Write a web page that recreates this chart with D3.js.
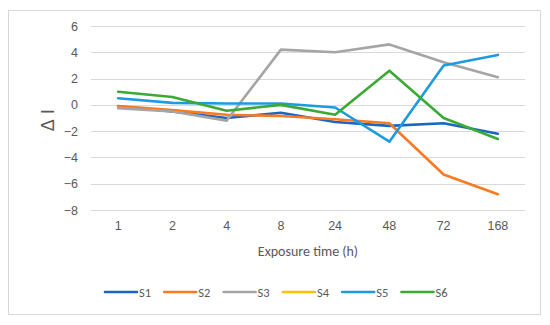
<!DOCTYPE html>
<html><head><meta charset="utf-8">
<script src="https://cdn.jsdelivr.net/npm/d3@7"></script>
<style>
html,body{margin:0;padding:0;background:#fff;}
svg{display:block;font-family:Carlito,Calibri,Lato,"Open Sans",sans-serif;}
</style></head>
<body><svg id="c" width="550" height="325"></svg>
<script>
const categories = ["1","2","4","8","24","48","72","168"];
const seriesNames = ["S1","S2","S3","S4","S5","S6"];
const seriesColors = ["#1a66c2","#f97a20","#a5a5a5","#ffc000","#1c9be0","#3aaa35"];
const S1 = [-0.1,-0.5,-1.0,-0.6,-1.3,-1.6,-1.4,-2.2];
const S2 = [-0.1,-0.4,-0.75,-0.85,-1.1,-1.4,-5.3,-6.8];
const S3 = [-0.25,-0.5,-1.2,4.2,4.0,4.6,3.25,2.1];
const S4 = [null,null,null,null,null,null,null,null];
const S5 = [0.5,0.15,0.1,0.1,-0.2,-2.8,3.0,3.8];
const S6 = [1.0,0.6,-0.45,0.0,-0.75,2.6,-1.0,-2.6];
const yTicks = [-8,-6,-4,-2,0,2,4,6];
const seriesValues = [S1,S2,S3,S4,S5,S6];

const svg = d3.select("#c");
svg.append("rect").attr("x",8.5).attr("y",10.5).attr("width",532).attr("height",304)
  .attr("fill","#fff").attr("stroke","#d9d9d9").attr("stroke-width",1);

const x = d3.scaleBand().domain(categories).range([91,525]);
const y = d3.scaleLinear().domain([-8,6]).range([210,26]);

// gridlines
svg.append("g").selectAll("line").data(yTicks).join("line")
  .attr("x1",91).attr("x2",525)
  .attr("y1",d=>Math.round(y(d))+0.5).attr("y2",d=>Math.round(y(d))+0.5)
  .attr("stroke","#d9d9d9").attr("stroke-width",1);

// y axis labels
const yAxis = d3.axisLeft(y).tickValues(yTicks).tickSize(0).tickPadding(0).tickFormat(d3.format("d"));
const gy = svg.append("g").attr("transform","translate(78,0)").call(yAxis);
gy.select(".domain").remove();
gy.selectAll("text").attr("fill","#595959").style("font-size","12.5px").style("font-family","inherit");

// x axis labels
const xAxis = d3.axisBottom(x).tickSize(0).tickPadding(0);
const gx = svg.append("g").attr("transform","translate(0,221)").call(xAxis);
gx.select(".domain").remove();
gx.selectAll("text").attr("fill","#595959").style("font-size","12.5px").style("font-family","inherit");

// axis titles
svg.append("text").attr("x",308).attr("y",256).attr("text-anchor","middle")
  .attr("fill","#595959").style("font-size","14px").text("Exposure time (h)");
svg.append("text").attr("transform","translate(54,120) rotate(-90)").attr("text-anchor","middle")
  .attr("fill","#595959").style("font-size","21px").text("Δ I");

// lines
const line = d3.line().defined(d=>d.v!=null).x(d=>x(d.c)+x.bandwidth()/2).y(d=>y(d.v));
seriesValues.forEach((vals,i)=>{
  const pts = categories.map((c,j)=>({c:c,v:vals[j]}));
  svg.append("path").datum(pts).attr("d",line).attr("fill","none")
    .attr("stroke",seriesColors[i]).attr("stroke-width",2.6)
    .attr("stroke-linejoin","round").attr("stroke-linecap","round");
});

// legend
const lg = svg.append("g");
seriesNames.forEach((n,i)=>{
  const x0 = 105 + i*59.3;
  lg.append("line").attr("x1",x0).attr("x2",x0+32).attr("y1",292).attr("y2",292)
    .attr("stroke",seriesColors[i]).attr("stroke-width",2.6).attr("stroke-linecap","round");
  lg.append("text").attr("x",x0+34).attr("y",296.5).attr("fill","#595959")
    .style("font-size","12.5px").text(n);
});
</script></body></html>
